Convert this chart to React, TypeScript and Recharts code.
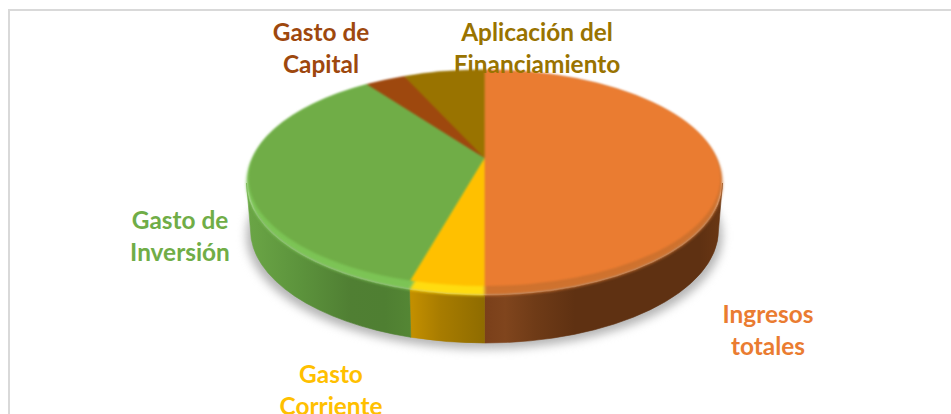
import React from 'react';
import { PieChart, Pie } from 'recharts';

const CATEGORIES = ['Ingresos totales', 'Gasto Corriente', 'Gasto de Inversión', 'Gasto de Capital', 'Aplicación del Financiamiento'];
const VALUES = [50, 5.1, 36.6, 2.8, 5.5];
const LABEL_LINES = [['Ingresos', 'totales'], ['Gasto', 'Corriente'], ['Gasto de', 'Inversión'], ['Gasto de', 'Capital'], ['Aplicación del', 'Financiamiento']];

const COLORS = ['#ea7c31', '#ffc000', '#70ad47', '#9e480e', '#997300'];
const RIM_COLORS = ['#cf722e', '#ffdc10', '#7cc455', '#9e480e', '#997300'];
// wall shading, left to right, as [x, colour]
const WALL_STOPS: [number, string][][] = [
  [[484, '#7a3f1a'], [505, '#80451d'], [535, '#6f3b17'], [575, '#5f3112'], [700, '#5f3112'], [722, '#6a3714']],
  [[410, '#c49000'], [440, '#a87c00'], [484, '#8f6c00']],
  [[246, '#6ba646'], [300, '#5c933c'], [350, '#507f33'], [385, '#4f7f32'], [410, '#548634']],
  [[246, '#9e480e'], [722, '#9e480e']],
  [[246, '#997300'], [722, '#997300']],
];

const LABEL_POS = [
  { x: 768, y: 323 },
  { x: 331, y: 383 },
  { x: 180, y: 229 },
  { x: 321, y: 41 },
  { x: 537, y: 41 },
];

const WIDTH = 951;
const HEIGHT = 414;
const CX = 484.5;
const CY = 183;
const APEX_Y = 158;
const RAD = Math.PI / 180;

const chartData = CATEGORIES.map((name, i) => ({ name, value: VALUES[i] }));

type Ellipse = { cy: number; rx: number; ry: number };
const OUTER: Ellipse = { cy: 183, rx: 238, ry: 112.5 };
const FACE: Ellipse = { cy: 178, rx: 236, ry: 108 };
const BASE: Ellipse = { cy: 230, rx: 234, ry: 113 };

const pt = (e: Ellipse, a: number) =>
  `${(CX + e.rx * Math.cos(a * RAD)).toFixed(2)} ${(e.cy - e.ry * Math.sin(a * RAD)).toFixed(2)}`;

const wedge = (e: Ellipse) => (props: any) => {
  const { startAngle, endAngle } = props;
  const large = Math.abs(startAngle - endAngle) > 180 ? 1 : 0;
  const d = `M ${CX} ${APEX_Y} L ${pt(e, startAngle)} A ${e.rx} ${e.ry} 0 ${large} 1 ${pt(e, endAngle)} Z`;
  return <path d={d} fill={props.fill} />;
};

const flat = (e: Ellipse) => (props: any) => {
  const { startAngle, endAngle } = props;
  const large = Math.abs(startAngle - endAngle) > 180 ? 1 : 0;
  const d = `M ${CX} ${e.cy} L ${pt(e, startAngle)} A ${e.rx} ${e.ry} 0 ${large} 1 ${pt(e, endAngle)} Z`;
  return <path d={d} fill={props.fill} />;
};

const wall = (props: any) => {
  const s = Math.min(props.startAngle, 0);
  const e = Math.max(props.endAngle, -180);
  if (s <= e) return <g />;
  const d = `M ${pt(OUTER, s)} A ${OUTER.rx} ${OUTER.ry} 0 0 1 ${pt(OUTER, e)} L ${pt(BASE, e)} A ${BASE.rx} ${BASE.ry} 0 0 0 ${pt(BASE, s)} Z`;
  return <path d={d} fill={`url(#wall-${props.index})`} stroke={`url(#wall-${props.index})`} strokeWidth={0.6} />;
};

const renderLabel = (props: any) => {
  const i = props.index;
  const pos = LABEL_POS[i];
  return (
    <text x={pos.x} textAnchor="middle" fill={COLORS[i]} fontFamily="Lato, sans-serif" fontWeight={700} fontSize={24.4}>
      <tspan x={pos.x} y={pos.y}>{LABEL_LINES[i][0]}</tspan>
      <tspan x={pos.x} y={pos.y + 32}>{LABEL_LINES[i][1]}</tspan>
    </text>
  );
};

const commonPie = {
  data: chartData,
  dataKey: 'value',
  nameKey: 'name',
  cx: CX,
  cy: CY,
  outerRadius: 238,
  startAngle: 90,
  endAngle: -270,
  stroke: 'none',
  isAnimationActive: false,
  labelLine: false,
};

export default function App() {
  const withColors = (list: string[]) => chartData.map((d, i) => ({ ...d, fill: list[i] }));
  return (
    <div style={{ position: 'absolute', left: 0, top: 0, width: WIDTH, height: HEIGHT, overflow: 'hidden', background: '#fff' }}>
      <style>{`
        .pie-shadow { filter: blur(5px); }
        .pie-rim { filter: blur(1.5px); }
        .pie-face { filter: blur(0.9px); }
        .chart-frame { position: absolute; left: 8px; top: 9px; width: 960px; height: 420px; border: 2px solid #d9d9d9; box-sizing: border-box; }
      `}</style>
      <div className="chart-frame" />
      <div style={{ position: 'absolute', left: 0, top: 0 }}>
        <PieChart width={WIDTH} height={HEIGHT} margin={{ top: 0, right: 0, bottom: 0, left: 0 }}>
          <defs>
            {WALL_STOPS.map((stops, i) => (
              <linearGradient key={i} id={`wall-${i}`} gradientUnits="userSpaceOnUse" x1={246} x2={722} y1={0} y2={0}>
                {stops.map(([x, c], j) => (
                  <stop key={j} offset={(x - 246) / (722 - 246)} stopColor={c} />
                ))}
              </linearGradient>
            ))}
          </defs>
          {/* soft shadow under the disc */}
          <Pie {...commonPie} className="pie-shadow" data={withColors(Array(5).fill('#b5b5b5'))} shape={flat({ cy: 236, rx: 238, ry: 113 })} />
          {/* side wall */}
          <Pie {...commonPie} shape={wall} />
          {/* bevel */}
          <Pie {...commonPie} className="pie-rim" data={withColors(RIM_COLORS)} shape={wedge(OUTER)} />
          {/* top face */}
          <Pie {...commonPie} className="pie-face" data={withColors(COLORS)} shape={wedge(FACE)} />
          {/* labels stay sharp, so they sit in their own invisible series */}
          <Pie {...commonPie} className="pie-labels" data={withColors(Array(5).fill('none'))} shape={() => <g />} label={renderLabel} />
        </PieChart>
      </div>
    </div>
  );
}
